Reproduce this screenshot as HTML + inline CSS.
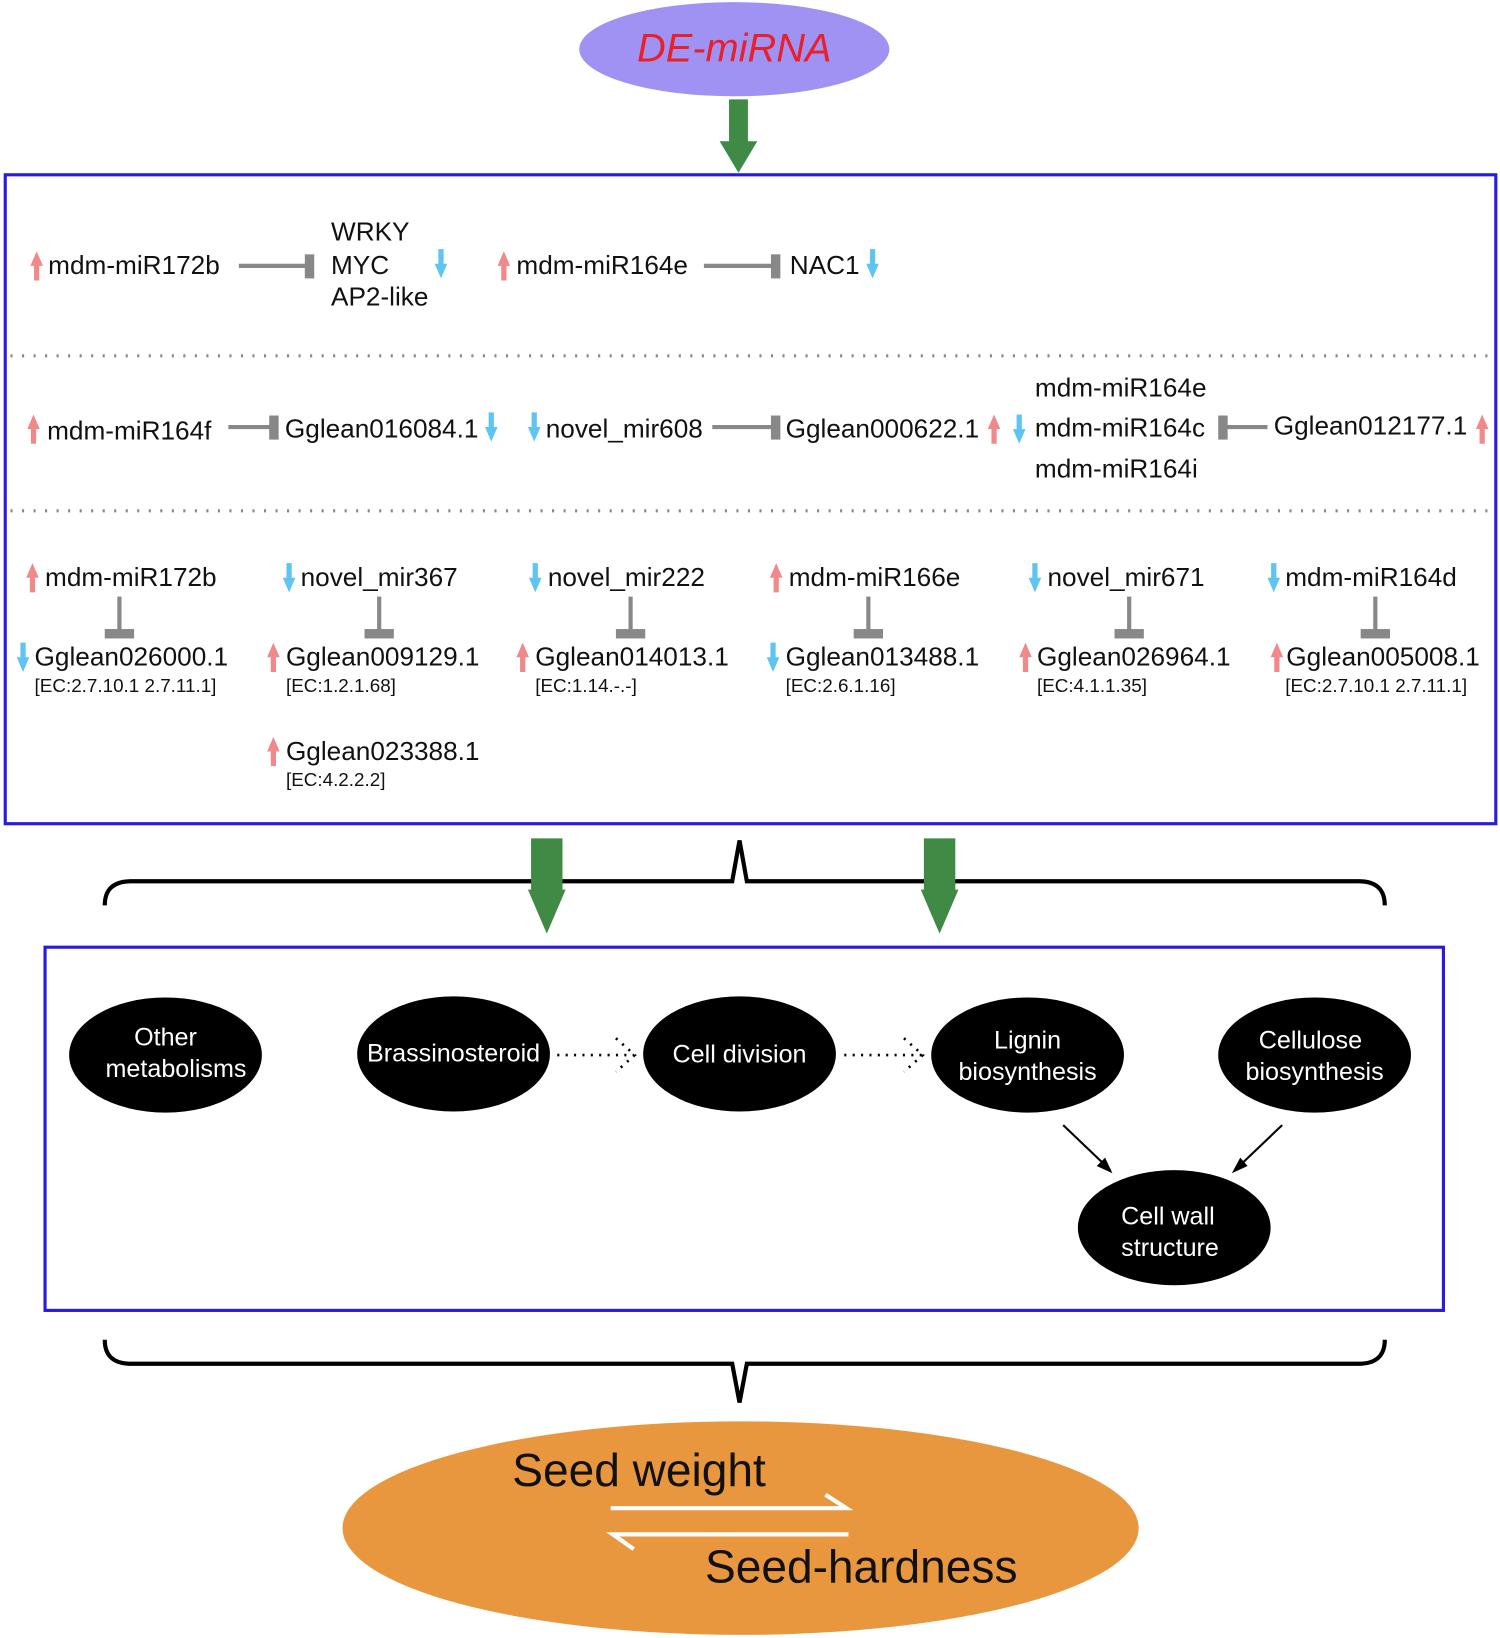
<!DOCTYPE html>
<html><head><meta charset="utf-8"><style>html,body{margin:0;padding:0;background:#fff}svg{display:block}</style></head><body>
<svg width="1500" height="1638" viewBox="0 0 1432 1565" preserveAspectRatio="none" xmlns="http://www.w3.org/2000/svg" font-family="Liberation Sans, Arial, sans-serif">
<defs>
<g id="up"><path d="M-2.5,14 L-2.5,0 L-6,0 L0,-14 L6,0 L2.5,0 L2.5,14 Z" fill="#f08a8a"/></g>
<g id="dn"><path d="M-2.5,-14 L-2.5,0 L-6,0 L0,14 L6,0 L2.5,0 L2.5,-14 Z" fill="#5ec4f2"/></g>
</defs>
<ellipse cx="701" cy="47" rx="148" ry="45" fill="#a092f2"/>
<text x="701" y="59" font-size="38" font-style="italic" fill="#e8202a" text-anchor="middle">DE-miRNA</text>
<path d="M696,95 H714 V135 H723 L705,165 L687,135 H696 Z" fill="#3f8a45"/>
<rect x="5" y="167" width="1423" height="620" fill="none" stroke="#2a1ae0" stroke-width="3"/>
<line x1="10" y1="340" x2="1425" y2="340" stroke="#888" stroke-width="3" stroke-dasharray="2 9"/>
<line x1="10" y1="488" x2="1425" y2="488" stroke="#888" stroke-width="3" stroke-dasharray="2 9"/>
<g font-size="25" fill="#111">
<use href="#up" x="35" y="254"/><text x="46" y="262">mdm-miR172b</text>
<line x1="228" y1="254" x2="295" y2="254" stroke="#888" stroke-width="4"/><rect x="291" y="243" width="9" height="23" fill="#888"/>
<text x="316" y="230">WRKY</text><text x="316" y="262">MYC</text><text x="316" y="292">AP2-like</text>
<use href="#dn" x="421" y="252"/>
<use href="#up" x="481" y="254"/><text x="493" y="262">mdm-miR164e</text>
<line x1="672" y1="254" x2="740" y2="254" stroke="#888" stroke-width="4"/><rect x="736" y="243" width="9" height="23" fill="#888"/>
<text x="754" y="262">NAC1</text><use href="#dn" x="833" y="252"/>

<use href="#up" x="32" y="410"/><text x="45" y="420">mdm-miR164f</text>
<line x1="218" y1="408" x2="260" y2="408" stroke="#888" stroke-width="4"/><rect x="257" y="397" width="9" height="23" fill="#888"/>
<text x="272" y="418">Gglean016084.1</text><use href="#dn" x="469" y="408"/>
<use href="#dn" x="510" y="408"/><text x="521" y="418">novel_mir608</text>
<line x1="680" y1="408" x2="738" y2="408" stroke="#888" stroke-width="4"/><rect x="736" y="397" width="9" height="23" fill="#888"/>
<text x="750" y="418">Gglean000622.1</text><use href="#up" x="949" y="410"/>
<use href="#dn" x="973" y="410"/>
<text x="988" y="379">mdm-miR164e</text><text x="988" y="417">mdm-miR164c</text><text x="988" y="456">mdm-miR164i</text>
<rect x="1163" y="397" width="9" height="23" fill="#888"/><line x1="1168" y1="408" x2="1210" y2="408" stroke="#888" stroke-width="4"/>
<text x="1216" y="415">Gglean012177.1</text><use href="#up" x="1415" y="410"/>

<use href="#up" x="31" y="552"/><text x="43" y="560">mdm-miR172b</text>
<use href="#dn" x="276" y="552"/><text x="287" y="560">novel_mir367</text>
<use href="#dn" x="511" y="552"/><text x="523" y="560">novel_mir222</text>
<use href="#up" x="741" y="552"/><text x="753" y="560">mdm-miR166e</text>
<use href="#dn" x="988" y="552"/><text x="1000" y="560">novel_mir671</text>
<use href="#dn" x="1216" y="552"/><text x="1227" y="560">mdm-miR164d</text>

<use href="#dn" x="22" y="628"/><text x="33" y="636">Gglean026000.1</text>
<use href="#up" x="261" y="628"/><text x="273" y="636">Gglean009129.1</text>
<use href="#up" x="499" y="628"/><text x="511" y="636">Gglean014013.1</text>
<use href="#dn" x="738" y="628"/><text x="750" y="636">Gglean013488.1</text>
<use href="#up" x="979" y="628"/><text x="990" y="636">Gglean026964.1</text>
<use href="#up" x="1219" y="628"/><text x="1228" y="636">Gglean005008.1</text>
<use href="#up" x="261" y="718"/><text x="273" y="726">Gglean023388.1</text>
</g>
<g fill="#888">
<rect x="112" y="570" width="4" height="33"/><rect x="100" y="601" width="28" height="9"/>
<rect x="360" y="570" width="4" height="33"/><rect x="348" y="601" width="28" height="9"/>
<rect x="600" y="570" width="4" height="33"/><rect x="588" y="601" width="28" height="9"/>
<rect x="827" y="570" width="4" height="33"/><rect x="815" y="601" width="28" height="9"/>
<rect x="1076" y="570" width="4" height="33"/><rect x="1064" y="601" width="28" height="9"/>
<rect x="1311" y="570" width="4" height="33"/><rect x="1299" y="601" width="28" height="9"/>
</g>
<g font-size="18" fill="#111">
<text x="33" y="661">[EC:2.7.10.1 2.7.11.1]</text>
<text x="273" y="661">[EC:1.2.1.68]</text>
<text x="511" y="661">[EC:1.14.-.-]</text>
<text x="750" y="661">[EC:2.6.1.16]</text>
<text x="990" y="661">[EC:4.1.1.35]</text>
<text x="1227" y="661">[EC:2.7.10.1 2.7.11.1]</text>
<text x="273" y="751">[EC:4.2.2.2]</text>
</g>
<path d="M100,865 Q100,842 125,842 H699 L706,803 L713,842 H1297 Q1322,842 1322,865" fill="none" stroke="#000" stroke-width="4"/>
<path d="M507,801 H537 V850 H540 L522,892 L504,850 H507 Z" fill="#3f8a45"/>
<path d="M882,801 H912 V850 H915 L897,892 L879,850 H882 Z" fill="#3f8a45"/>
<rect x="43" y="905" width="1335" height="347" fill="none" stroke="#2a1ae0" stroke-width="3"/>
<g fill="#000">
<ellipse cx="158" cy="1008" rx="92" ry="55"/><ellipse cx="433" cy="1007" rx="92" ry="55"/>
<ellipse cx="706" cy="1007" rx="92" ry="55"/><ellipse cx="981" cy="1008" rx="92" ry="55"/>
<ellipse cx="1255" cy="1008" rx="92" ry="55"/><ellipse cx="1121" cy="1173" rx="92" ry="55"/>
</g>
<g font-size="24" fill="#fff" text-anchor="middle">
<text x="158" y="999">Other</text><text x="168" y="1029">metabolisms</text>
<text x="433" y="1014">Brassinosteroid</text>
<text x="706" y="1015">Cell division</text>
<text x="981" y="1002">Lignin</text><text x="981" y="1032">biosynthesis</text>
<text x="1251" y="1002">Cellulose</text><text x="1255" y="1032">biosynthesis</text>
<text x="1115" y="1170">Cell wall</text><text x="1117" y="1200">structure</text>
</g>
<g stroke="#000" stroke-width="2.5" fill="none" stroke-dasharray="2 6">
<line x1="532" y1="1008" x2="605" y2="1008"/><path d="M588,992 L606,1008 L588,1024"/>
<line x1="806" y1="1008" x2="880" y2="1008"/><path d="M863,992 L881,1008 L863,1024"/>
</g>
<g stroke="#000" stroke-width="2">
<line x1="1015" y1="1075" x2="1060" y2="1118"/><line x1="1224" y1="1075" x2="1179" y2="1118"/>
</g>
<path d="M1062,1121 L1047,1114 L1055,1106 Z M1176,1121 L1184,1106 L1191,1114 Z" fill="#000"/>
<path d="M100,1280 Q100,1303 125,1303 H699 L706,1340 L713,1303 H1297 Q1322,1303 1322,1280" fill="none" stroke="#000" stroke-width="4"/>
<ellipse cx="707" cy="1460" rx="380" ry="102" fill="#e8973f"/>
<text x="489" y="1420" font-size="44" fill="#111">Seed weight</text>
<text x="673" y="1512" font-size="44" fill="#111">Seed-hardness</text>
<g stroke="#fff" stroke-width="4" fill="none">
<path d="M583,1441 H808 L788,1428"/>
<path d="M810,1466 H585 L605,1480"/>
</g>
</svg>
</body></html>
